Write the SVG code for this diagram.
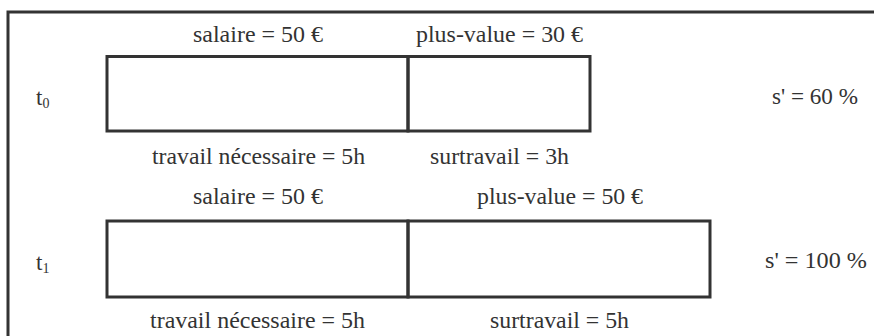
<svg xmlns="http://www.w3.org/2000/svg" width="874" height="336" viewBox="0 0 874 336">
<style>
.ln{stroke:#333;stroke-width:3;fill:none}
.t{font-family:'Liberation Serif',serif;font-size:23px;fill:#333}
.sub{font-size:14px}
</style>
<rect width="874" height="336" fill="#fff"/>
<g id="frame"><path class="ln" d="M8,336 V12 H874"/></g>
<g id="row0">
<g id="box0-salaire"><rect class="ln" x="107" y="56.5" width="301" height="74.5"/></g>
<g id="box0-plusvalue"><rect class="ln" x="408" y="56.5" width="182" height="74.5"/></g>
<text class="t" font-family="Liberation Serif, serif" x="193" y="42" textLength="130" lengthAdjust="spacingAndGlyphs">salaire = 50 €</text>
<text class="t" font-family="Liberation Serif, serif" x="416" y="42" textLength="167" lengthAdjust="spacingAndGlyphs">plus-value = 30 €</text>
<text class="t" font-family="Liberation Serif, serif" x="36" y="105">t<tspan class="sub" dy="3">0</tspan></text>
<text class="t" font-family="Liberation Serif, serif" x="772" y="104" textLength="86" lengthAdjust="spacingAndGlyphs">s' = 60 %</text>
<text class="t" font-family="Liberation Serif, serif" x="152" y="164" textLength="213" lengthAdjust="spacingAndGlyphs">travail nécessaire = 5h</text>
<text class="t" font-family="Liberation Serif, serif" x="430" y="164" textLength="139" lengthAdjust="spacingAndGlyphs">surtravail = 3h</text>
</g>
<g id="row1">
<g id="box1-salaire"><rect class="ln" x="107" y="221" width="301" height="76"/></g>
<g id="box1-plusvalue"><rect class="ln" x="408" y="221" width="302" height="76"/></g>
<text class="t" font-family="Liberation Serif, serif" x="193" y="204" textLength="130" lengthAdjust="spacingAndGlyphs">salaire = 50 €</text>
<text class="t" font-family="Liberation Serif, serif" x="477" y="204" textLength="166" lengthAdjust="spacingAndGlyphs">plus-value = 50 €</text>
<text class="t" font-family="Liberation Serif, serif" x="36" y="270">t<tspan class="sub" dy="3">1</tspan></text>
<text class="t" font-family="Liberation Serif, serif" x="765" y="268" textLength="102" lengthAdjust="spacingAndGlyphs">s' = 100 %</text>
<text class="t" font-family="Liberation Serif, serif" x="150" y="328" textLength="215" lengthAdjust="spacingAndGlyphs">travail nécessaire = 5h</text>
<text class="t" font-family="Liberation Serif, serif" x="490" y="328" textLength="139" lengthAdjust="spacingAndGlyphs">surtravail = 5h</text>
</g>
<g id="connectors"></g>
</svg>
